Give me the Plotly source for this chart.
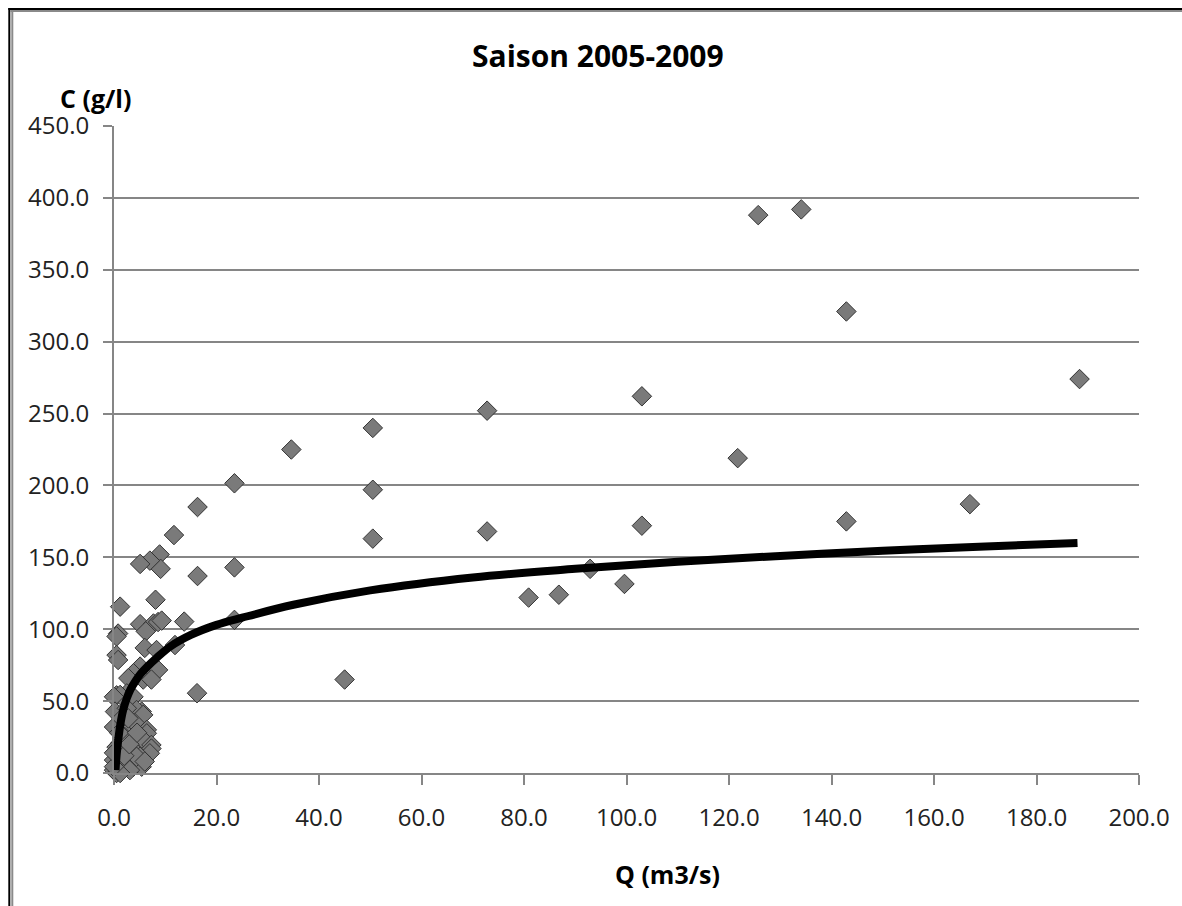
import plotly.graph_objects as go

# Observations: discharge Q (m3/s) and concentration C (g/l)
q_obs = [188.4, 134.1, 125.7, 142.9, 121.7, 142.9, 167.0,
         72.8, 103.0, 72.8, 103.0, 92.9, 80.9, 86.8, 99.6,
         50.5, 50.5, 50.5, 34.6, 23.5, 16.3, 11.7, 8.9, 9.1, 8.1, 16.3, 23.5, 23.5, 13.7, 45.0, 16.2,
         7.0, 5.1, 1.2, 5.1, 7.7, 8.6, 9.3, 6.2, 0.8, 0.5, 0.5, 6.0, 8.3, 11.9,
         5.1, 7.3, 8.6, 3.4, 5.7, 7.3, 0.8, 3.8, 2.8, 0.5, 2.5, 3.8, 1.2, 0.0, 0.2, 5.4, 4.4, 5.7,
         0.0, 3.1, 6.4, 6.4, 5.4, 5.7, 7.3, 7.3, 7.0, 3.8, 2.5, 3.8, 0.0, 0.0, 0.5, 1.2, 2.1, 0.5,
         5.1, 5.4, 4.4, 3.1, 1.2, 0.0, 0.0, 1.5, 2.5, 4.0, 2.0, 3.0, 1.0, 4.5, 6.0, 2.8]
c_obs = [274, 392, 388, 321, 219, 175, 187,
         252, 262, 168, 172, 142, 122, 124, 131.5,
         240, 197, 163, 225, 201.5, 185, 165.5, 152, 142, 120.5, 137, 143, 106.5, 105.3, 65, 55.5,
         147.7, 145.4, 115.7, 103.5, 104, 105, 106, 98.5, 97, 95, 82, 87, 85.5, 89,
         74, 70.5, 71.7, 67, 65, 65, 78.6, 69.4, 66, 54, 55.4, 53, 54.3, 53, 42.7, 42.7, 43.8, 40.4,
         32, 32, 30, 27.6, 23, 23, 19.5, 17, 13.7, 16, 9, 4.4, 9, 2, 0, 20.7, 25, 18,
         11.3, 4.4, 11.3, 2, 0, 4.4, 14, 38, 45, 35, 12, 20, 28, 28, 8, 38]

# Trend curve, points
q_trend = [0.3, 0.5, 0.8, 1.2, 1.8, 2.5, 3.2, 4.2, 5.2, 6.5, 8.3, 11, 15, 20, 25, 35,
           50, 70, 90, 110, 130, 150, 170, 188]
c_trend = [2, 12, 22, 33, 44, 52, 58, 64, 69, 74, 80, 88, 96, 103, 108, 117,
           127, 136, 142, 147, 151, 154.5, 157.5, 160]

x_ticks = [0, 20, 40, 60, 80, 100, 120, 140, 160, 180, 200]
y_ticks = [0, 50, 100, 150, 200, 250, 300, 350, 400, 450]

title_text = "Saison 2005-2009"
x_title = "Q (m3/s)"
y_title = "C (g/l)"

W, H = 1182, 906
L, T = 114, 126
R = W - 1142
B = H - 773
pw, ph = W - L - R, H - T - B


def px(x):
    return (x - L) / pw


def py(y):
    return (H - B - y) / ph


FONT = "Open Sans"
GRID = "#868686"
TXT = "#222222"

fig = go.Figure()
fig.add_trace(go.Scatter(
    x=q_obs, y=c_obs, mode="markers", cliponaxis=False,
    marker=dict(symbol="diamond", size=15, color="#7a7a7a",
                line=dict(color="#333333", width=1)),
    showlegend=False, hoverinfo="x+y"))
fig.add_trace(go.Scatter(
    x=q_trend, y=c_trend, mode="lines", line_shape="spline", cliponaxis=False,
    line=dict(color="black", width=8), showlegend=False, hoverinfo="skip"))

fig.update_layout(
    width=W, height=H,
    margin=dict(l=L, r=R, t=T, b=B, pad=0),
    paper_bgcolor="white", plot_bgcolor="white",
    font=dict(family=FONT, size=21, color=TXT),
    xaxis=dict(range=[0, 200], tickvals=x_ticks, ticktext=[f"{v:.1f}" for v in x_ticks],
               showgrid=False, zeroline=False, showline=True, linecolor=GRID, linewidth=2,
               ticks="outside", ticklen=10, tickwidth=2, tickcolor=GRID,
               ticklabelstandoff=12, tickfont=dict(family=FONT, size=24, color=TXT)),
    yaxis=dict(range=[0, 450], tickvals=y_ticks, ticktext=[f"{v:.1f}" for v in y_ticks],
               showgrid=True, gridcolor=GRID, gridwidth=1.5, zeroline=False,
               showline=True, linecolor=GRID, linewidth=2,
               ticks="outside", ticklen=9, tickwidth=1.5, tickcolor=GRID,
               ticklabelstandoff=9, tickfont=dict(family=FONT, size=24, color=TXT)),
    annotations=[
        dict(text=f"<b>{title_text}</b>", x=px(599), y=py(55), xref="paper", yref="paper",
             showarrow=False, xanchor="center", yanchor="middle",
             font=dict(family=FONT, size=30, color="black")),
        dict(text=f"<b>{y_title}</b>", x=px(95), y=py(98), xref="paper", yref="paper",
             showarrow=False, xanchor="center", yanchor="middle",
             font=dict(family=FONT, size=25, color="black")),
        dict(text=f"<b>{x_title}</b>", x=px(669), y=py(874), xref="paper", yref="paper",
             showarrow=False, xanchor="center", yanchor="middle",
             font=dict(family=FONT, size=25, color="black")),
    ],
    shapes=[
        dict(type="line", xref="paper", yref="paper", x0=px(9), x1=px(9), y0=py(8), y1=py(910),
             line=dict(color="black", width=2)),
        dict(type="line", xref="paper", yref="paper", x0=px(8), x1=px(1190), y0=py(9), y1=py(9),
             line=dict(color="black", width=2)),
        dict(type="line", xref="paper", yref="paper", x0=px(12), x1=px(12), y0=py(10), y1=py(910),
             line=dict(color="#8a8a8a", width=2)),
        dict(type="line", xref="paper", yref="paper", x0=px(10), x1=px(1190), y0=py(11), y1=py(11),
             line=dict(color="#8a8a8a", width=2)),
    ],
)

fig.write_html(
    "out.html",
    config={"displayModeBar": False},
    post_script="document.body.style.margin='0';document.body.style.overflow='hidden';",
)
